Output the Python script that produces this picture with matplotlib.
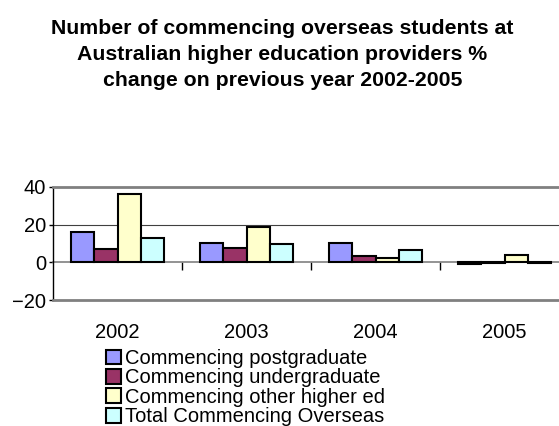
import numpy as np
import matplotlib
matplotlib.use("Agg")
import matplotlib.pyplot as plt
from matplotlib.patches import Patch

plt.rcParams['font.family'] = ['Liberation Sans', 'DejaVu Sans']

years = ['2002', '2003', '2004', '2005']
series_names = ['Commencing postgraduate', 'Commencing undergraduate',
                'Commencing other higher ed', 'Total Commencing Overseas']
postgrad = [15.9, 10.5, 10.5, -0.8]
undergrad = [7.0, 7.8, 3.6, -0.3]
other_higher = [36.3, 18.9, 2.5, 4.1]
total = [12.9, 10.0, 6.4, -0.5]
colours = ['#9999FF', '#993366', '#FFFFCC', '#CCFFFF']

W, H = 559, 426
fig = plt.figure(figsize=(W / 100, H / 100), dpi=100)
ax = fig.add_axes([53 / W, (H - 300) / H, 516 / W, 113 / H])

x = np.arange(len(years))
bw = 1 / 5.5
for i, vals in enumerate([postgrad, undergrad, other_higher, total]):
    ax.bar(x + (i - 1.5) * bw, vals, bw, color=colours[i],
           edgecolor='black', linewidth=1.5, zorder=3)

ax.set_xlim(-0.5, 3.5)
ax.set_ylim(-20, 40)
ax.set_yticks([-20, 0, 20, 40])
ax.tick_params(axis='y', labelsize=14.5, length=3, width=1, pad=2)

# category axis sits on the zero line
ax.spines['bottom'].set_position(('data', 0))
ax.spines['bottom'].set_color('#808080')
ax.spines['bottom'].set_linewidth(1.2)
ax.spines['bottom'].set_zorder(2)
ax.set_xticks(x[:-1] + 0.5)
ax.set_xticklabels([])
ax.tick_params(axis='x', which='major', direction='out', length=6,
               width=1, color='black')
ax.set_xticks(x, minor=True)
ax.set_xticklabels(years, minor=True)
ax.tick_params(axis='x', which='minor', length=0, labelsize=14.5, pad=44)

ax.spines['right'].set_visible(False)
ax.spines['top'].set_color('#808080')
ax.spines['top'].set_linewidth(2)
ax.spines['left'].set_linewidth(1)
ax.axhline(-20, color='#808080', linewidth=2, clip_on=False, zorder=4)
ax.axhline(20, color='#404040', linewidth=0.8, zorder=1)

fig.text(0.505, 1 - 19 / H,
         'Number of commencing overseas students at\n'
         'Australian higher education providers %\n'
         'change on previous year 2002-2005',
         ha='center', va='top', fontsize=15.3, fontweight='bold',
         linespacing=1.46)

handles = [Patch(facecolor=c, edgecolor='black', linewidth=1.5) for c in colours]
fig.legend(handles, series_names, loc='upper left',
           bbox_to_anchor=(106 / W, 1 - 349 / H), frameon=False,
           fontsize=14.5, handlelength=0.75, handleheight=0.75,
           handletextpad=0.2, labelspacing=0.02, borderpad=0,
           borderaxespad=0)

fig.savefig('out.png', dpi=100)
